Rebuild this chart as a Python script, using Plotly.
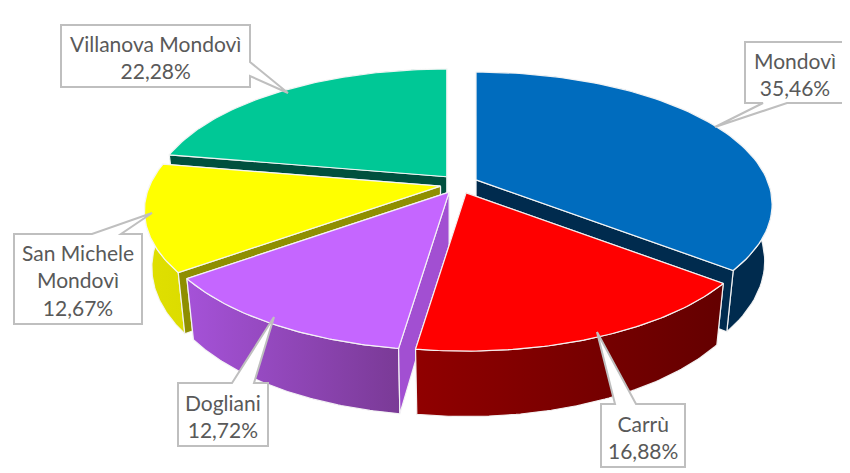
import numpy as np
import plotly.graph_objects as go

names = ["Mondovì", "Carrù", "Dogliani", "San Michele<br>Mondovì", "Villanova Mondovì"]
values = [35.46, 16.88, 12.72, 12.67, 22.28]

top_colors = ["#006CBE", "#FF0000", "#C566FF", "#FFFF00", "#00C896"]
cut_colors = ["#002B4E", "#660000", "#A24FD2", "#8F8F00", "#00503E"]
side_left = ["#002B4E", "#900000", "#A552D8", "#E0E000", "#00503E"]
side_right = ["#002B4E", "#640000", "#7A3A96", "#DCDC00", "#00503E"]
# which cut face (0 = start edge, 1 = end edge) faces the viewer, per slice
visible_cut = [1, None, 0, 0, 0]

W, H = 850, 473
PAGE = 8  # the page's own margin: axes keep window pixel coordinates
CX, CY = 459, 184
A, B, PERSP, DEPTH, EXPL, SHRINK = 291, 133, 0.19, 55, 19, 0.975


def rim(t, ax, ay):
    yf = -np.cos(t)
    s = 1 + PERSP * yf
    return ax + A * np.sin(t) * s, ay + B * yf * s


def drop(x, y, t, ax):
    s = 1 + PERSP * (-np.cos(t))
    return ax + (x - ax) * SHRINK, y + DEPTH * s


fig = go.Figure()
total = sum(values)
edges = np.concatenate([[0], np.cumsum(values)]) / total * 2 * np.pi
LINE = dict(color="rgba(245,245,245,0.95)", width=1.2)


def poly(xs, ys, color=None, grad=None):
    kw = dict(x=list(xs), y=list(ys), mode="lines", fill="toself", line=LINE,
              hoverinfo="skip", showlegend=False)
    if grad:
        kw["fillgradient"] = dict(type="horizontal", colorscale=[[0, grad[0]], [1, grad[1]]])
    else:
        kw["fillcolor"] = color
    fig.add_trace(go.Scatter(**kw))


for i in [4, 0, 3, 2, 1]:
    t0, t1 = edges[i], edges[i + 1]
    mid = (t0 + t1) / 2
    ax = CX + EXPL * np.sin(mid)
    ay = CY - EXPL * 0.5 * np.cos(mid)
    ts = np.linspace(t0, t1, 80)
    xt, yt = rim(ts, ax, ay)
    xb, yb = drop(xt, yt, ts, ax)

    def cut_face(t):
        px, py = rim(t, ax, ay)
        qx, qy = drop(px, py, t, ax)
        poly([ax, px, qx, ax, ax], [ay, py, qy, ay + DEPTH, ay], color=cut_colors[i])

    # hidden cut faces, then the outer wall, then the face turned to the viewer, then the top
    for k, t in enumerate((t0, t1)):
        if visible_cut[i] != k:
            cut_face(t)
    poly(np.r_[xt, xb[::-1], xt[0]], np.r_[yt, yb[::-1], yt[0]],
         grad=(side_left[i], side_right[i]))
    if visible_cut[i] is not None:
        cut_face((t0, t1)[visible_cut[i]])
    poly(np.r_[ax, xt, ax], np.r_[ay, yt, ay], color=top_colors[i])

# label boxes: left, top, right, bottom, pointer base a, pointer base b, tip, base side
boxes = [
    (745, 42, 844, 103, (763, 103), (787, 103), (715, 127), "bottom"),
    (601, 404, 685, 467, (615, 404), (636, 404), (597, 332), "top"),
    (178, 383, 268, 446, (232, 383), (254, 383), (274, 317), "top"),
    (14, 234, 142, 324, (92, 234), (121, 234), (152, 213), "top"),
    (61, 25, 250, 87, (250, 62), (250, 76), (288, 93), "right"),
]
shapes, notes = [], []
for i, (l, t, r, b, p, q, tip, side) in enumerate(boxes):
    if side == "top":
        pts = [(l, t), p, tip, q, (r, t), (r, b), (l, b)]
    elif side == "bottom":
        pts = [(l, t), (r, t), (r, b), q, tip, p, (l, b)]
    else:
        pts = [(l, t), (r, t), p, tip, q, (r, b), (l, b)]
    path = "M " + " L ".join(f"{x} {y}" for x, y in pts) + " Z"
    shapes.append(dict(type="path", path=path, xref="x", yref="y", fillcolor="white",
                       line=dict(color="#BFBFBF", width=2), layer="above"))
    pct = f"{values[i]:.2f}".replace(".", ",") + "%"
    notes.append(dict(x=(l + r) / 2, y=(t + b) / 2 + 1, xref="x", yref="y",
                      text=f"{names[i]}<br>{pct}", showarrow=False,
                      xanchor="center", yanchor="middle", align="center",
                      font=dict(family="Lato", size=21, color="#595959")))

fig.update_layout(
    width=W - PAGE, height=H - PAGE, margin=dict(l=0, r=0, t=0, b=0),
    paper_bgcolor="white", plot_bgcolor="white", showlegend=False,
    xaxis=dict(range=[PAGE, W], visible=False, fixedrange=True),
    yaxis=dict(range=[H, PAGE], visible=False, fixedrange=True),
    shapes=shapes, annotations=notes,
)
fig.write_html("out.html", config=dict(displayModeBar=False))
